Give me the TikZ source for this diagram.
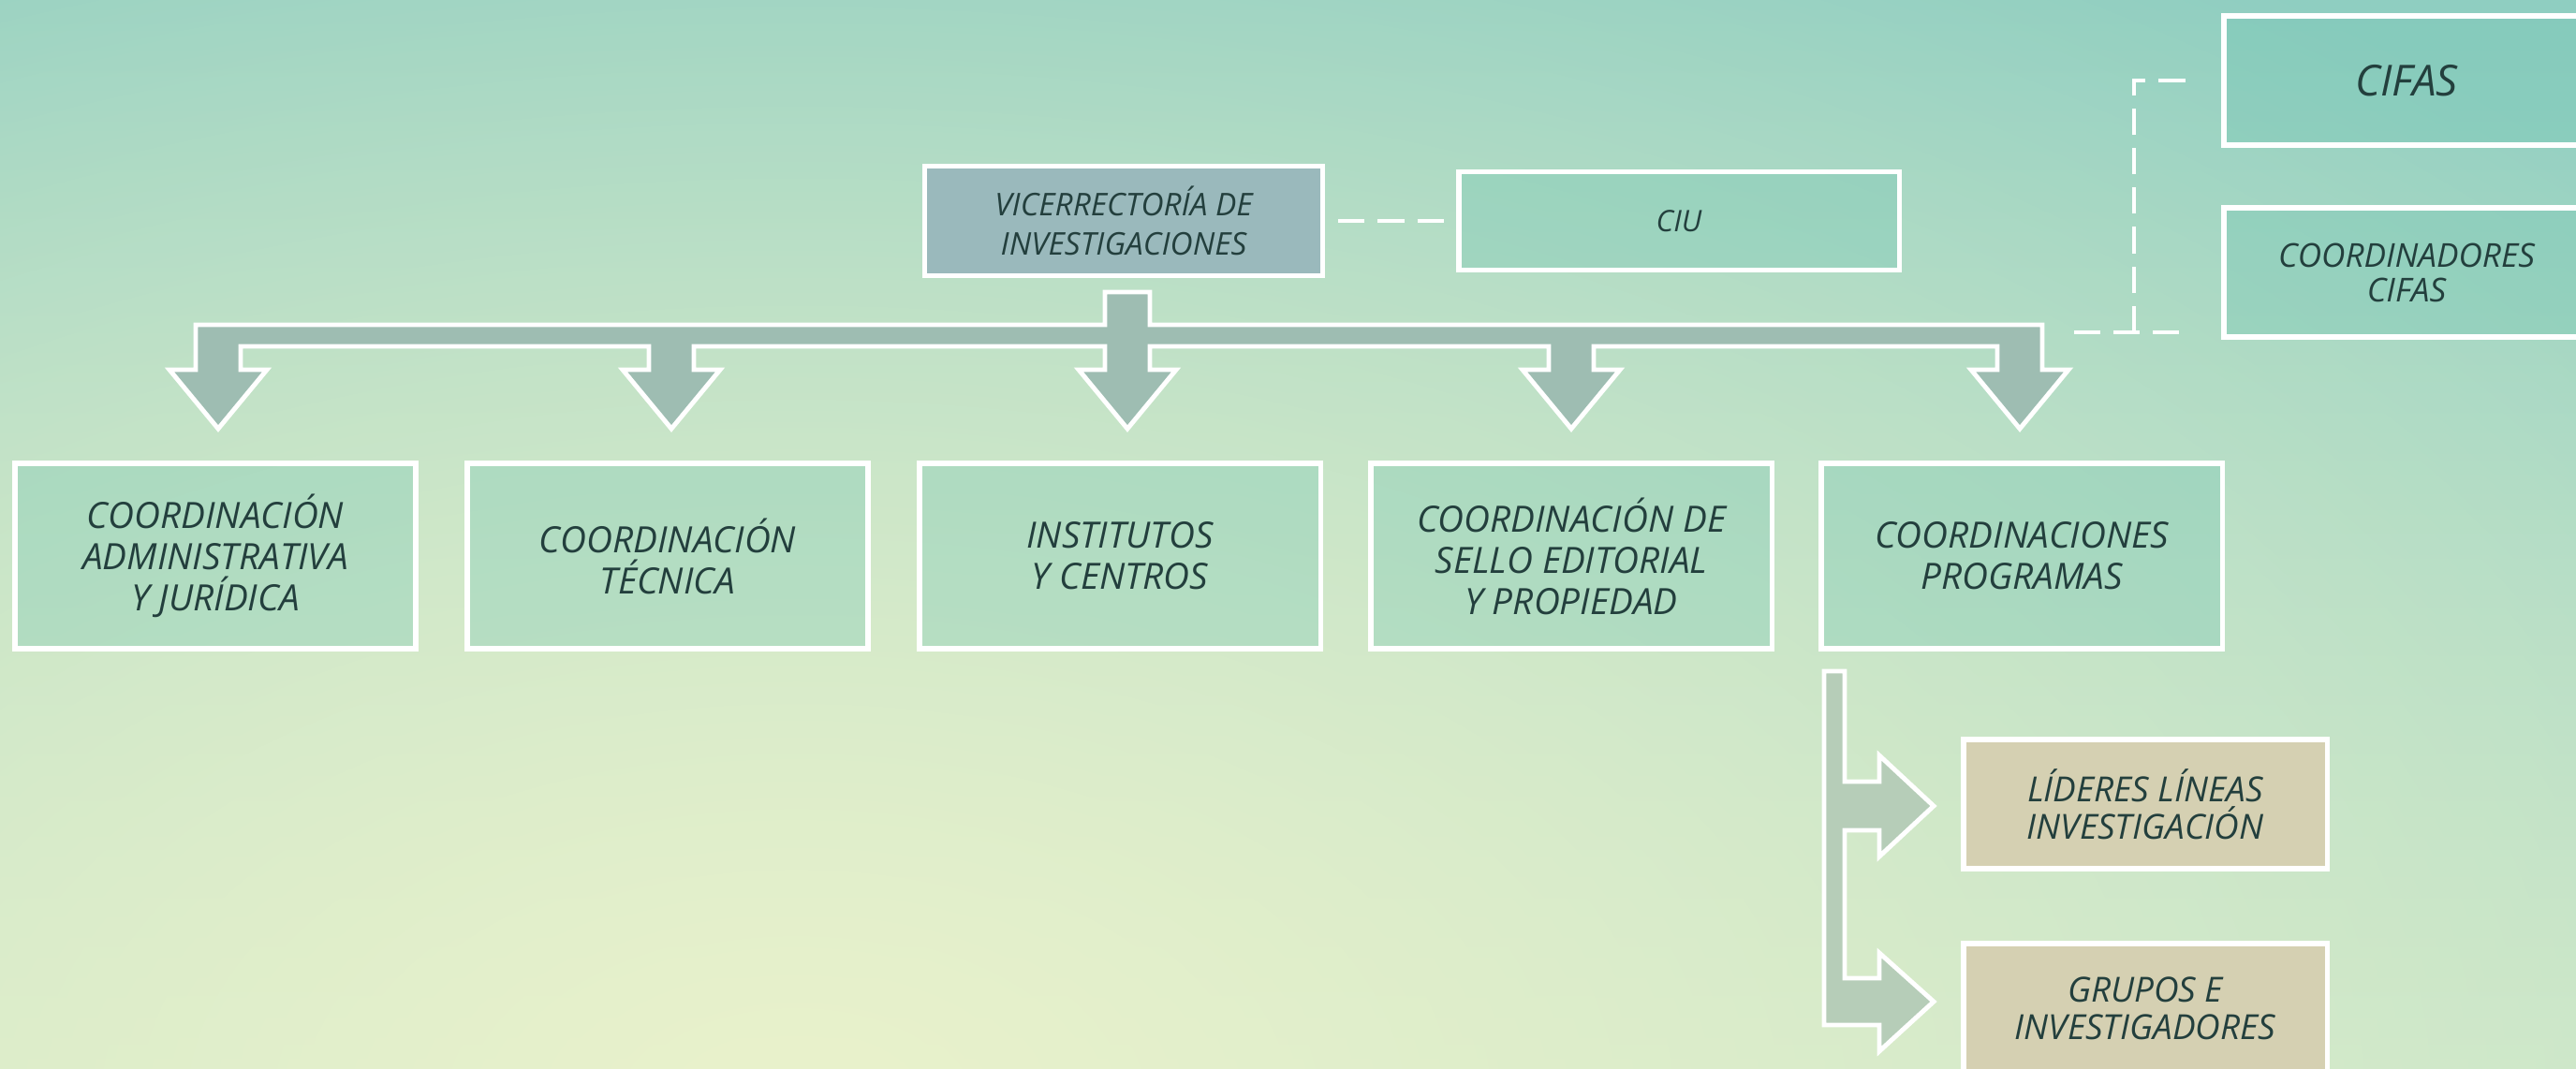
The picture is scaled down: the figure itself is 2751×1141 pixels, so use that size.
\documentclass[tikz,border=0pt]{standalone}
\usepackage{fontspec}
\setmainfont{Open Sans}
\usetikzlibrary{fadings}

\definecolor{bglight}{HTML}{EAF2CC}
\definecolor{bgteal}{HTML}{8FCEC1}
\definecolor{bgbottom}{HTML}{C4E4C8}
\definecolor{ink}{HTML}{233F3D}
\definecolor{boxteal}{HTML}{6FC4B2}
\definecolor{vicefill}{HTML}{9AB9BC}
\definecolor{sandfill}{HTML}{D5D0B2}
\definecolor{combfill}{HTML}{9EBDB2}
\definecolor{branchfill}{HTML}{B6CDB8}

\tikzfading[name=glowfade, inner color=transparent!0, outer color=transparent!100]

\begin{document}
\begin{tikzpicture}[x=0.01cm, y=-0.01cm,
    box/.style={draw=white, line width=1.5pt, fill=boxteal, fill opacity=0.3,
        text opacity=1, text=ink, align=center,
        font={\fontsize{11}{12.5}\selectfont\itshape}},
    rowbox/.style={box, minimum width=4.28cm, minimum height=1.98cm},
    sidebox/.style={box, minimum width=3.9cm, minimum height=1.38cm},
    sandbox/.style={box, fill=sandfill, fill opacity=1, minimum width=3.88cm, minimum height=1.38cm,
        font={\fontsize{10.5}{11.5}\selectfont\itshape}},
    comb/.style={draw=white, line width=1.4pt, line join=miter},
    dashline/.style={draw=white, line width=1.4pt, dash pattern=on 8pt off 4pt}]

    % background
    \useasboundingbox (0,0) rectangle (2751,1141);
    \clip (0,0) rectangle (2751,1141);
    \shade[top color=bgteal, bottom color=bgbottom] (0,0) rectangle (2751,1141);
    \fill[bglight, path fading=glowfade] (850,1180) ellipse (26cm and 15cm);

    % top level
    \node[box, fill=vicefill, fill opacity=1, minimum width=4.25cm, minimum height=1.17cm,
        font={\fontsize{9.5}{12}\selectfont\itshape}] (vice) at (1200,236) {VICERRECTORÍA DE\\INVESTIGACIONES};
    \node[box, minimum width=4.7cm, minimum height=1.05cm,
        font={\fontsize{9}{11}\selectfont\itshape}] (ciu) at (1793,236) {CIU};

    \node[sidebox, font={\fontsize{13}{15}\selectfont\itshape}] (cifas) at (2570,86) {CIFAS};
    \node[sidebox, font={\fontsize{10}{10.5}\selectfont\itshape}] (ccifas) at (2570,291) {COORDINADORES\\CIFAS};

    % second level
    \node[rowbox] (adm) at (230,594) {COORDINACIÓN\\ADMINISTRATIVA\\Y JURÍDICA};
    \node[rowbox] (tec) at (713,594) {COORDINACIÓN\\TÉCNICA};
    \node[rowbox] (inst) at (1196,594) {INSTITUTOS\\Y CENTROS};
    \node[rowbox] (sello) at (1678,594) {COORDINACIÓN DE\\SELLO EDITORIAL\\Y PROPIEDAD};
    \node[rowbox] (prog) at (2159,594) {COORDINACIONES\\PROGRAMAS};

    % third level
    \node[sandbox] (lideres) at (2291,859) {LÍDERES LÍNEAS\\INVESTIGACIÓN};
    \node[sandbox] (grupos) at (2291,1077) {GRUPOS E\\INVESTIGADORES};

    % dashed links
    \draw[dashline, shorten <=0.14cm, shorten >=0.11cm] (vice.east) -- (ciu.west);
    \coordinate (tap) at (2215,355);
    \coordinate (turn) at (2279,355);
    \draw[dashline, shorten >=0.45cm] (tap) -- (tap -| ccifas.west);
    \draw[dashline, shorten >=0.28cm] (turn) |- (cifas.west);

    % block arrows from the vicerrectoria
    \draw[comb, fill=combfill] (209,347) -- (1180,347) -- (1180,312) -- (1228,312) -- (1228,347)
        -- (2181,347) -- (2181,395) -- (2209,395) -- (2157,458) -- (2105,395) -- (2133,395) -- (2133,370)
        -- (1702,370) -- (1702,395) -- (1730,395) -- (1678,458) -- (1626,395) -- (1654,395) -- (1654,370)
        -- (1228,370) -- (1228,395) -- (1256,395) -- (1204,458) -- (1152,395) -- (1180,395) -- (1180,370)
        -- (741,370) -- (741,395) -- (769,395) -- (717,458) -- (665,395) -- (693,395) -- (693,370)
        -- (257,370) -- (257,395) -- (285,395) -- (233,458) -- (181,395) -- (209,395) -- cycle;

    % block arrows from the programas
    \draw[comb, fill=branchfill] (1948,717) -- (1970,717) -- (1970,835) -- (2007,835) -- (2007,807)
        -- (2065,861) -- (2007,915) -- (2007,887) -- (1970,887) -- (1970,1045) -- (2007,1045)
        -- (2007,1018) -- (2065,1070) -- (2007,1123) -- (2007,1095) -- (1948,1095) -- cycle;
\end{tikzpicture}
\end{document}
